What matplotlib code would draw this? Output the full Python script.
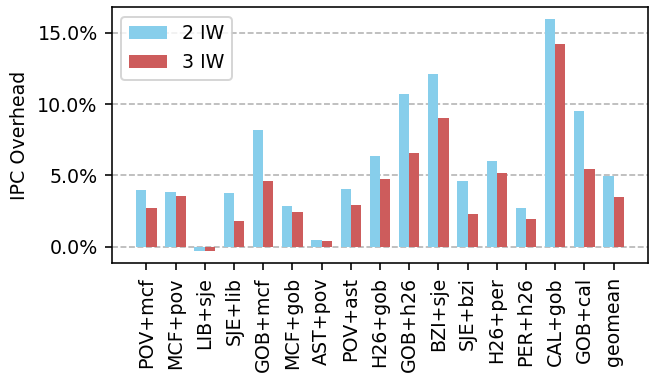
import numpy as np
import matplotlib
matplotlib.use("Agg")
import matplotlib.pyplot as plt
from matplotlib.ticker import PercentFormatter

categories = ["POV+mcf", "MCF+pov", "LIB+sje", "SJE+lib", "GOB+mcf", "MCF+gob",
              "AST+pov", "POV+ast", "H26+gob", "GOB+h26", "BZI+sje", "SJE+bzi",
              "H26+per", "PER+h26", "CAL+gob", "GOB+cal", "geomean"]
overhead_2iw = [3.97, 3.85, -0.33, 3.78, 8.20, 2.87, 0.49, 4.06, 6.38, 10.72,
                12.12, 4.62, 6.03, 2.73, 15.98, 9.53, 4.98]
overhead_3iw = [2.73, 3.57, -0.33, 1.82, 4.62, 2.45, 0.42, 2.94, 4.77, 6.59,
                9.04, 2.31, 5.19, 1.96, 14.23, 5.47, 3.50]

plt.rcParams["font.family"] = "DejaVu Sans"
plt.rcParams["font.size"] = 9.5

DPI = 144
fig = plt.figure(figsize=(652 / DPI, 373 / DPI), dpi=DPI)
ax = fig.add_axes([0.1713, 0.2949, 0.8230, 0.6855])

x = np.arange(len(categories))
width = 0.35
ax.bar(x - width / 2, overhead_2iw, width, color="skyblue", label="2 IW", zorder=3)
ax.bar(x + width / 2, overhead_3iw, width, color="indianred", label="3 IW", zorder=3)

ax.set_xticks(x)
ax.set_xticklabels(categories, rotation=90)
ax.set_yticks([0, 5, 10, 15])
ax.yaxis.set_major_formatter(PercentFormatter(decimals=1))
ax.set_ylabel("IPC Overhead")
ax.grid(axis="y", linestyle="--", color="gray", alpha=0.6, zorder=0)
ax.set_axisbelow(True)
ax.legend(loc="upper left")

fig.savefig("out.png", dpi=DPI)
